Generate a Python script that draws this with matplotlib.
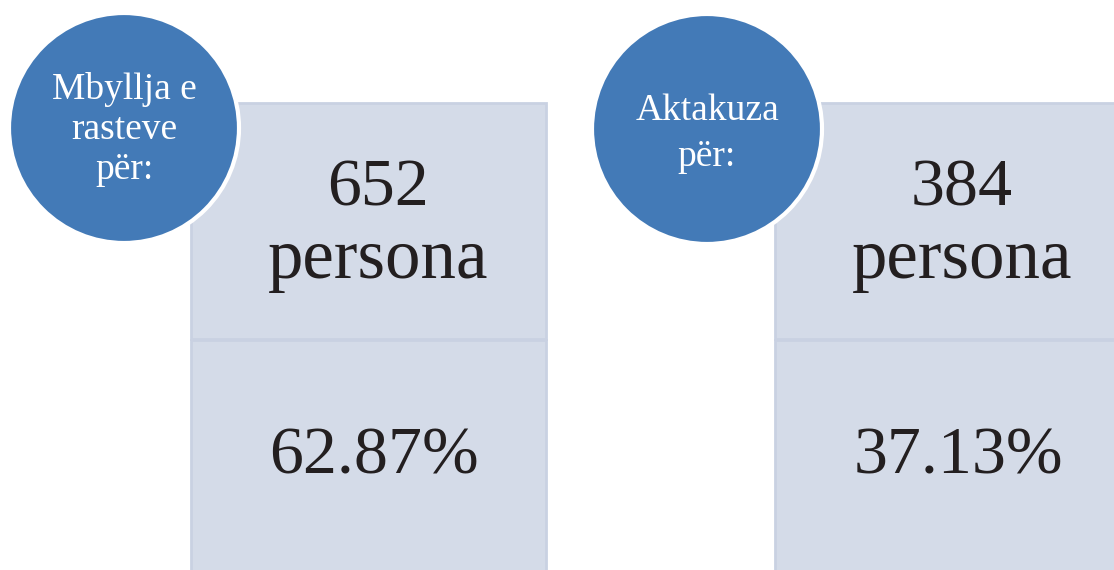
import matplotlib
matplotlib.use("Agg")
import matplotlib.pyplot as plt
from matplotlib.patches import Rectangle, Circle

# Data
label_lines = [["Mbyllja e", "rasteve", "për:"], ["Aktakuza", "për:"]]
counts = [652, 384]
unit = "persona"
percents = [62.87, 37.13]

W, H = 1114, 570
fig = plt.figure(figsize=(W / 100, H / 100), dpi=100)
ax = fig.add_axes([0, 0, 1, 1])
ax.set_xlim(0, W)
ax.set_ylim(H, 0)
ax.axis("off")

box_color = "#d4dbe8"
edge_color = "#c9d1e2"
circ_color = "#437ab7"
txt_color = "#231f20"
serif = ["Liberation Serif", "DejaVu Serif"]

box_x = [191, 775]
box_w = 355
circ_c = [(124, 128), (707, 129)]
label_base = [[99, 139, 179], [120, 166]]

for i in range(2):
    x0 = box_x[i]
    ax.add_patch(Rectangle((x0, 103), box_w, 236, facecolor=box_color,
                           edgecolor=edge_color, linewidth=2, zorder=1))
    ax.add_patch(Rectangle((x0, 340), box_w, 240, facecolor=box_color,
                           edgecolor=edge_color, linewidth=2, zorder=1))
    ax.text(x0 + 187, 205, str(counts[i]), ha="center", va="baseline",
            fontsize=49, family=serif, color=txt_color, zorder=3)
    ax.text(x0 + 187, 278, unit, ha="center", va="baseline",
            fontsize=51, family=serif, color=txt_color, zorder=3)
    ax.text(x0 + 183, 473, f"{percents[i]:.2f}%", ha="center", va="baseline",
            fontsize=49, family=serif, color=txt_color, zorder=3)
    ax.add_patch(Circle(circ_c[i], 115, facecolor=circ_color, edgecolor="white",
                        linewidth=3, zorder=4))
    for line, yb in zip(label_lines[i], label_base[i]):
        ax.text(circ_c[i][0], yb, line, ha="center", va="baseline",
                fontsize=27, family=serif, color="white", zorder=5)

fig.savefig("out.png", dpi=100)
